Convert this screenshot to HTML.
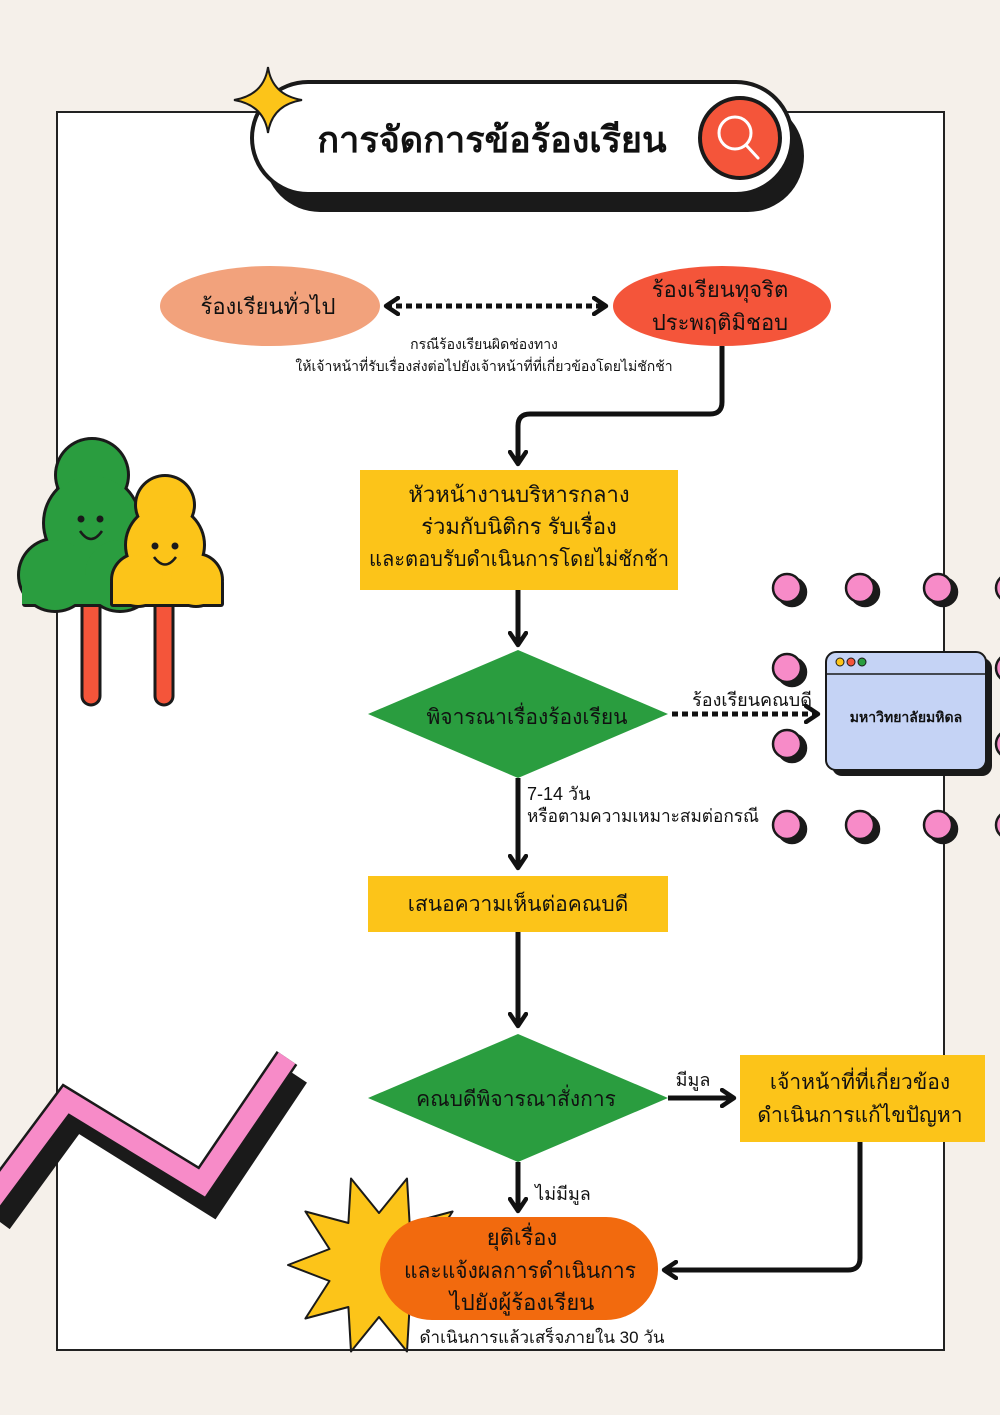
<!DOCTYPE html>
<html><head><meta charset="utf-8"><style>
html,body{margin:0;padding:0;background:#f5f0ea;}
svg{display:block}
text{font-family:"Liberation Sans",sans-serif;}
</style></head><body>
<svg width="1000" height="1415" viewBox="0 0 1000 1415" xmlns="http://www.w3.org/2000/svg">
<defs>
<marker id="ah" viewBox="0 0 10 10" refX="7" refY="5" markerWidth="4" markerHeight="4" orient="auto-start-reverse">
<path d="M1,1 L7,5 L1,9" fill="none" stroke="#111" stroke-width="2.2" stroke-linecap="round" stroke-linejoin="round"/>
</marker>
</defs>
<rect width="1000" height="1415" fill="#f5f0ea"/>
<rect x="57" y="112" width="887" height="1238" fill="#fff" stroke="#222" stroke-width="2"/>

<!-- title -->
<rect x="264" y="100" width="540" height="112" rx="56" fill="#1a1a1a"/>
<rect x="252" y="82" width="540" height="112" rx="56" fill="#fff" stroke="#1a1a1a" stroke-width="4"/>
<text x="492" y="152" font-size="36" font-weight="bold" text-anchor="middle" fill="#111">การจัดการข้อร้องเรียน</text>
<circle cx="740" cy="138" r="40" fill="#f4553a" stroke="#1a1a1a" stroke-width="4"/>
<circle cx="735" cy="133" r="16" fill="none" stroke="#fff" stroke-width="3"/>
<line x1="746" y1="145" x2="758" y2="158" stroke="#fff" stroke-width="3" stroke-linecap="round"/>
<path d="M268,67 Q272,95 302,100 Q272,105 268,133 Q264,105 234,100 Q264,95 268,67Z" fill="#fcc419" stroke="#1a1a1a" stroke-width="2"/>

<!-- top ellipses -->
<ellipse cx="270" cy="306" rx="110" ry="40" fill="#f2a27c"/>
<text x="268" y="314" font-size="22" text-anchor="middle" fill="#111">ร้องเรียนทั่วไป</text>
<ellipse cx="722" cy="306" rx="109" ry="40" fill="#f4553a"/>
<text x="720" y="297" font-size="22" text-anchor="middle" fill="#111">ร้องเรียนทุจริต</text>
<text x="720" y="330" font-size="22" text-anchor="middle" fill="#111">ประพฤติมิชอบ</text>
<line x1="386" y1="306" x2="606" y2="306" stroke="#111" stroke-width="5" stroke-dasharray="6,4" marker-start="url(#ah)" marker-end="url(#ah)"/>
<text x="484" y="349" font-size="14" text-anchor="middle" fill="#111">กรณีร้องเรียนผิดช่องทาง</text>
<text x="484" y="371" font-size="14" text-anchor="middle" fill="#111">ให้เจ้าหน้าที่รับเรื่องส่งต่อไปยังเจ้าหน้าที่ที่เกี่ยวข้องโดยไม่ชักช้า</text>

<path d="M722,346 V402 Q722,414 710,414 H530 Q518,414 518,426 V464" fill="none" stroke="#111" stroke-width="5" marker-end="url(#ah)"/>

<!-- box 1 -->
<rect x="360" y="470" width="318" height="120" fill="#fcc419"/>
<text x="519" y="502" font-size="22" text-anchor="middle" fill="#111">หัวหน้างานบริหารกลาง</text>
<text x="519" y="534" font-size="22" text-anchor="middle" fill="#111">ร่วมกับนิติกร รับเรื่อง</text>
<text x="519" y="566" font-size="21" text-anchor="middle" fill="#111" textLength="300" lengthAdjust="spacingAndGlyphs">และตอบรับดำเนินการโดยไม่ชักช้า</text>
<line x1="518" y1="590" x2="518" y2="645" stroke="#111" stroke-width="5" marker-end="url(#ah)"/>

<!-- diamond 1 -->
<polygon points="518,650 668,714 518,778 368,714" fill="#2a9d3f"/>
<text x="527" y="724" font-size="21" text-anchor="middle" fill="#111">พิจารณาเรื่องร้องเรียน</text>
<line x1="672" y1="714" x2="818" y2="714" stroke="#111" stroke-width="5" stroke-dasharray="6,4" marker-end="url(#ah)"/>
<text x="752" y="706" font-size="18" text-anchor="middle" fill="#111">ร้องเรียนคณบดี</text>

<!-- dots -->
<g stroke="#1a1a1a" stroke-width="2.5">
<g fill="#1a1a1a">
<circle cx="792" cy="592" r="14"/><circle cx="865" cy="592" r="14"/><circle cx="943" cy="592" r="14"/>
<circle cx="792" cy="672" r="14"/>
<circle cx="792" cy="748" r="14"/>
<circle cx="792" cy="829" r="14"/><circle cx="865" cy="829" r="14"/><circle cx="943" cy="829" r="14"/>
</g>
<g fill="#f78bc8">
<circle cx="787" cy="588" r="14"/><circle cx="860" cy="588" r="14"/><circle cx="938" cy="588" r="14"/>
<circle cx="787" cy="668" r="14"/>
<circle cx="787" cy="744" r="14"/>
<circle cx="787" cy="825" r="14"/><circle cx="860" cy="825" r="14"/><circle cx="938" cy="825" r="14"/>
<circle cx="1010" cy="588" r="14"/><circle cx="1010" cy="668" r="14"/><circle cx="1010" cy="744" r="14"/><circle cx="1010" cy="825" r="14"/>
</g>
</g>

<!-- window -->
<rect x="832" y="658" width="160" height="118" rx="10" fill="#1a1a1a"/>
<rect x="826" y="652" width="160" height="118" rx="10" fill="#c5d3f5" stroke="#1a1a1a" stroke-width="2"/>
<line x1="826" y1="674" x2="986" y2="674" stroke="#1a1a1a" stroke-width="1.5"/>
<circle cx="840" cy="662" r="4" fill="#fcc419" stroke="#1a1a1a" stroke-width="1"/>
<circle cx="851" cy="662" r="4" fill="#f4553a" stroke="#1a1a1a" stroke-width="1"/>
<circle cx="862" cy="662" r="4" fill="#2a9d3f" stroke="#1a1a1a" stroke-width="1"/>
<text x="906" y="722" font-size="14" font-weight="bold" text-anchor="middle" fill="#111">มหาวิทยาลัยมหิดล</text>

<line x1="518" y1="778" x2="518" y2="868" stroke="#111" stroke-width="5" marker-end="url(#ah)"/>
<text x="527" y="800" font-size="18" fill="#111">7-14 วัน</text>
<text x="527" y="822" font-size="18" fill="#111" textLength="232" lengthAdjust="spacingAndGlyphs">หรือตามความเหมาะสมต่อกรณี</text>

<rect x="368" y="876" width="300" height="56" fill="#fcc419"/>
<text x="518" y="911" font-size="21" text-anchor="middle" fill="#111">เสนอความเห็นต่อคณบดี</text>
<line x1="518" y1="932" x2="518" y2="1026" stroke="#111" stroke-width="5" marker-end="url(#ah)"/>

<!-- diamond 2 -->
<polygon points="518,1034 668,1098 518,1162 368,1098" fill="#2a9d3f"/>
<text x="516" y="1106" font-size="21" text-anchor="middle" fill="#111">คณบดีพิจารณาสั่งการ</text>
<line x1="668" y1="1098" x2="734" y2="1098" stroke="#111" stroke-width="5" marker-end="url(#ah)"/>
<text x="693" y="1086" font-size="18" text-anchor="middle" fill="#111">มีมูล</text>

<rect x="740" y="1055" width="245" height="87" fill="#fcc419"/>
<text x="860" y="1089" font-size="21" text-anchor="middle" fill="#111">เจ้าหน้าที่ที่เกี่ยวข้อง</text>
<text x="860" y="1122" font-size="21" text-anchor="middle" fill="#111">ดำเนินการแก้ไขปัญหา</text>
<path d="M860,1142 V1258 Q860,1270 848,1270 H664" fill="none" stroke="#111" stroke-width="5" marker-end="url(#ah)"/>

<line x1="518" y1="1162" x2="518" y2="1211" stroke="#111" stroke-width="5" marker-end="url(#ah)"/>
<text x="563" y="1200" font-size="18" text-anchor="middle" fill="#111">ไม่มีมูล</text>

<!-- starburst -->
<polygon points="351,1178.5 379,1213 407,1178.5 409.6,1223 452.6,1211.5 428.5,1249 470,1265 428.5,1281 452.6,1318.5 409.6,1307 407,1351.5 379,1317 351,1351.5 348.4,1307 305.4,1318.5 329.5,1281 288,1265 329.5,1249 305.4,1211.5 348.4,1223" fill="#fcc419" stroke="#1a1a1a" stroke-width="2" stroke-linejoin="round"/>
<rect x="380" y="1217" width="278" height="103" rx="52" fill="#f26a0e"/>
<text x="522" y="1245" font-size="22" text-anchor="middle" fill="#111">ยุติเรื่อง</text>
<text x="520" y="1278" font-size="22" text-anchor="middle" fill="#111" textLength="232" lengthAdjust="spacingAndGlyphs">และแจ้งผลการดำเนินการ</text>
<text x="522" y="1310" font-size="22" text-anchor="middle" fill="#111">ไปยังผู้ร้องเรียน</text>
<text x="542" y="1343" font-size="17" text-anchor="middle" fill="#111">ดำเนินการแล้วเสร็จภายใน 30 วัน</text>

<!-- zigzag -->
<polyline points="0,1222 76,1118 212,1203 297,1076" fill="none" stroke="#1a1a1a" stroke-width="24" stroke-linejoin="miter"/>
<polyline points="-10,1202 66,1100 202,1183 287,1058" fill="none" stroke="#1a1a1a" stroke-width="25" stroke-linejoin="miter"/>
<polyline points="-10,1202 66,1100 202,1183 287,1058" fill="none" stroke="#f78bc8" stroke-width="20" stroke-linejoin="miter"/>

<!-- trees -->
<g stroke="#1a1a1a" stroke-width="3">
<rect x="82" y="595" width="18" height="110" rx="9" fill="#f4553a"/>
<rect x="155" y="595" width="18" height="110" rx="9" fill="#f4553a"/>
</g>
<g fill="#1a1a1a">
<circle cx="92" cy="475" r="38"/><circle cx="92" cy="523" r="50"/><circle cx="55" cy="575" r="38"/><circle cx="120" cy="575" r="38"/><rect x="22" y="575" width="136" height="32" rx="3"/>
</g>
<g fill="#2a9d3f">
<circle cx="92" cy="475" r="35"/><circle cx="92" cy="523" r="47"/><circle cx="55" cy="575" r="35"/><circle cx="120" cy="575" r="35"/><rect x="22" y="575" width="133" height="29"/>
</g>
<g fill="#1a1a1a">
<circle cx="165" cy="505" r="31"/><circle cx="165" cy="545" r="41"/><circle cx="138" cy="580" r="28"/><circle cx="196" cy="580" r="28"/><rect x="110" y="580" width="114" height="27" rx="3"/>
</g>
<g fill="#fcc419">
<circle cx="165" cy="505" r="28"/><circle cx="165" cy="545" r="38"/><circle cx="138" cy="580" r="25"/><circle cx="196" cy="580" r="25"/><rect x="113" y="580" width="108" height="24"/>
</g>
<g fill="#1a1a1a">
<circle cx="81" cy="519" r="3.5"/><circle cx="100" cy="519" r="3.5"/>
<circle cx="155" cy="546" r="3.5"/><circle cx="175" cy="546" r="3.5"/>
</g>
<path d="M80,531 Q91,547 102,531" fill="none" stroke="#1a1a1a" stroke-width="2.5"/>
<path d="M154,557 Q165,572 176,557" fill="none" stroke="#1a1a1a" stroke-width="2.5"/>
</svg>
</body></html>
